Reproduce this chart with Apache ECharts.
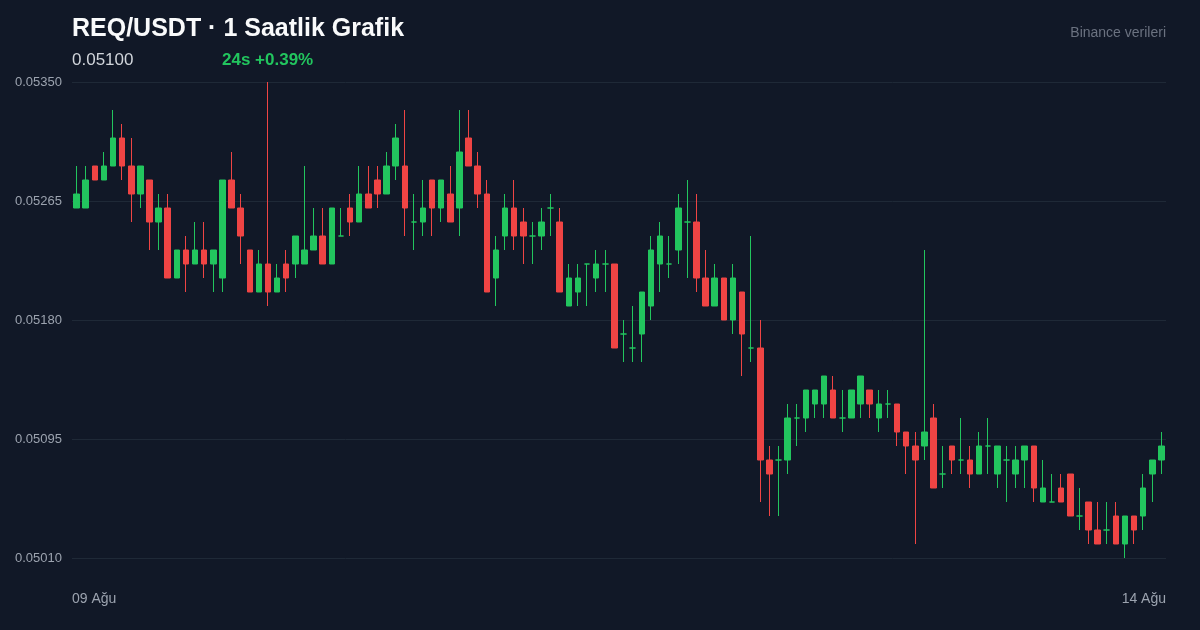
<!DOCTYPE html>
<html>
<head>
<meta charset="utf-8">
<script src="https://cdn.jsdelivr.net/npm/echarts@6/dist/echarts.min.js"></script>
<style>
html,body{margin:0;padding:0;background:#111827;}
#c{width:1200px;height:630px;}
</style>
</head>
<body>
<div id="c"></div>
<script>
const opens = [
0.0526,0.0526,0.0529,0.0528,0.0529,0.0531,0.0529,0.0527,0.0528,0.0525,
0.0526,0.0521,0.0523,0.0522,0.0523,0.0522,0.0521,0.0528,0.0526,0.0523,
0.0520,0.0522,0.0520,0.0522,0.0522,0.0522,0.0523,0.0524,0.0522,0.0524,
0.0526,0.0525,0.0527,0.0528,0.0527,0.0529,0.0529,0.0525,0.0525,0.0528,
0.0526,0.0527,0.0526,0.0531,0.0529,0.0527,0.0521,0.0524,0.0526,0.0525,
0.0524,0.0524,0.0526,0.0525,0.0519,0.0520,0.0522,0.0521,0.0522,0.0522,
0.0517,0.0516,0.0517,0.0519,0.0522,0.0522,0.0523,0.0525,0.0525,0.0521,
0.0519,0.0521,0.0518,0.0520,0.0516,0.0516,0.0508,0.0508,0.0508,0.0511,
0.0511,0.0512,0.0512,0.0513,0.0511,0.0511,0.0512,0.0513,0.0511,0.0512,
0.0512,0.0510,0.0509,0.0509,0.0511,0.0507,0.0509,0.0508,0.0508,0.0507,
0.0509,0.0507,0.0508,0.0507,0.0508,0.0509,0.0505,0.0505,0.0506,0.0507,
0.0504,0.0505,0.0503,0.0503,0.0504,0.0502,0.0504,0.0504,0.0507,0.0508
];
const closes = [
0.0527,0.0528,0.0528,0.0529,0.0531,0.0529,0.0527,0.0529,0.0525,0.0526,
0.0521,0.0523,0.0522,0.0523,0.0522,0.0523,0.0528,0.0526,0.0524,0.0520,
0.0522,0.0520,0.0521,0.0521,0.0524,0.0523,0.0524,0.0522,0.0526,0.0524,
0.0525,0.0527,0.0526,0.0527,0.0529,0.0531,0.0526,0.0525,0.0526,0.0526,
0.0528,0.0525,0.0530,0.0529,0.0527,0.0520,0.0523,0.0526,0.0524,0.0524,
0.0524,0.0525,0.0526,0.0520,0.0521,0.0521,0.0522,0.0522,0.0522,0.0516,
0.0517,0.0516,0.0520,0.0523,0.0524,0.0522,0.0526,0.0525,0.0521,0.0519,
0.0521,0.0518,0.0521,0.0517,0.0516,0.0508,0.0507,0.0508,0.0511,0.0511,
0.0513,0.0513,0.0514,0.0511,0.0511,0.0513,0.0514,0.0512,0.0512,0.0512,
0.0510,0.0509,0.0508,0.0510,0.0506,0.0507,0.0508,0.0508,0.0507,0.0509,
0.0509,0.0509,0.0508,0.0508,0.0509,0.0506,0.0506,0.0505,0.0505,0.0504,
0.0504,0.0503,0.0502,0.0503,0.0502,0.0504,0.0503,0.0506,0.0508,0.0509
];
const highs = [
0.0529,0.0529,0.0529,0.0530,0.0533,0.0532,0.0531,0.0529,0.0528,0.0527,
0.0527,0.0523,0.0524,0.0525,0.0525,0.0523,0.0528,0.0530,0.0527,0.0523,
0.0523,0.0535,0.0522,0.0523,0.0524,0.0529,0.0526,0.0526,0.0526,0.0526,
0.0527,0.0529,0.0529,0.0529,0.0530,0.0532,0.0533,0.0527,0.0528,0.0528,
0.0528,0.0529,0.0533,0.0533,0.0530,0.0528,0.0524,0.0527,0.0528,0.0526,
0.0525,0.0526,0.0527,0.0526,0.0522,0.0522,0.0522,0.0523,0.0523,0.0522,
0.0518,0.0519,0.0520,0.0524,0.0525,0.0524,0.0527,0.0528,0.0527,0.0523,
0.0522,0.0521,0.0522,0.0520,0.0524,0.0518,0.0509,0.0509,0.0512,0.0512,
0.0513,0.0513,0.0514,0.0514,0.0513,0.0513,0.0514,0.0513,0.0513,0.0513,
0.0512,0.0510,0.0510,0.0523,0.0512,0.0509,0.0509,0.0511,0.0509,0.0510,
0.0511,0.0509,0.0509,0.0509,0.0509,0.0509,0.0508,0.0507,0.0507,0.0507,
0.0506,0.0505,0.0505,0.0505,0.0505,0.0504,0.0504,0.0507,0.0508,0.0510
];
const lows = [
0.0526,0.0526,0.0528,0.0528,0.0529,0.0528,0.0525,0.0526,0.0523,0.0523,
0.0521,0.0521,0.0520,0.0522,0.0521,0.0520,0.0520,0.0526,0.0522,0.0520,
0.0520,0.0519,0.0520,0.0520,0.0521,0.0522,0.0523,0.0522,0.0522,0.0524,
0.0524,0.0525,0.0526,0.0526,0.0527,0.0528,0.0524,0.0523,0.0524,0.0524,
0.0525,0.0525,0.0524,0.0529,0.0526,0.0520,0.0519,0.0523,0.0523,0.0522,
0.0522,0.0523,0.0524,0.0520,0.0519,0.0519,0.0519,0.0520,0.0520,0.0516,
0.0515,0.0515,0.0515,0.0518,0.0520,0.0521,0.0522,0.0521,0.0520,0.0519,
0.0519,0.0518,0.0517,0.0514,0.0515,0.0505,0.0504,0.0504,0.0507,0.0509,
0.0510,0.0511,0.0511,0.0511,0.0510,0.0511,0.0511,0.0511,0.0510,0.0511,
0.0509,0.0507,0.0502,0.0508,0.0506,0.0506,0.0507,0.0507,0.0506,0.0507,
0.0507,0.0506,0.0505,0.0506,0.0506,0.0505,0.0505,0.0505,0.0505,0.0504,
0.0503,0.0502,0.0502,0.0502,0.0502,0.0501,0.0502,0.0503,0.0505,0.0507
];
const yTickLabels = ['0.05010','0.05095','0.05180','0.05265','0.05350'];
const xTickLabels = ['09 Ağu', '14 Ağu'];
const titleText = 'REQ/USDT · 1 Saatlik Grafik';
const lastPriceText = '0.05100';
const changeText = '24s +0.39%';
const sourceText = 'Binance verileri';

// hourly category keys
const categories = [];
for (let d = 9; d <= 13; d++) {
  for (let h = 0; h < 24; h++) {
    categories.push(String(d).padStart(2, '0') + ' Ağu ' + String(h).padStart(2, '0') + ':00');
  }
}

const UP = '#22c55e', DOWN = '#ef4444';
const candleData = opens.map((o, i) => {
  const item = { value: [o, closes[i], lows[i], highs[i]] };
  if (o === closes[i]) {
    item.itemStyle = { color: UP, color0: UP, borderColor: UP, borderColor0: UP };
  }
  return item;
});

const yMin = parseFloat(yTickLabels[0]);
const yMax = parseFloat(yTickLabels[yTickLabels.length - 1]);

const chart = echarts.init(document.getElementById('c'), null, { renderer: 'canvas' });
const FONT = '"Liberation Sans", Arial, Helvetica, sans-serif';

chart.setOption({
  backgroundColor: '#111827',
  animation: false,
  textStyle: { fontFamily: FONT },
  grid: { left: 72, right: 34, top: 82, bottom: 72 },
  xAxis: {
    type: 'category',
    data: categories,
    boundaryGap: true,
    axisLine: { show: false },
    axisTick: { show: false },
    axisLabel: { show: false },
    splitLine: { show: false }
  },
  yAxis: {
    type: 'value',
    min: yMin,
    max: yMax,
    interval: (yMax - yMin) / (yTickLabels.length - 1),
    axisLine: { show: false },
    axisTick: { show: false },
    axisLabel: {
      color: '#9ca3af',
      fontSize: 13,
      fontFamily: FONT,
      margin: 10,
      formatter: v => v.toFixed(5)
    },
    splitLine: { lineStyle: { color: '#1f2937', width: 1 } }
  },
  series: [{
    type: 'candlestick',
    data: candleData,
    barWidth: 6,
    itemStyle: {
      color: UP, color0: DOWN,
      borderColor: UP, borderColor0: DOWN,
      borderWidth: 1
    }
  }],
  graphic: [
    { type: 'text', left: 72, top: 17, style: { text: titleText, font: 'bold 25px ' + FONT, fill: '#f9fafb' } },
    { type: 'text', left: 72, top: 52, style: { text: lastPriceText, font: '17px ' + FONT, fill: '#d1d5db' } },
    { type: 'text', left: 222, top: 52, style: { text: changeText, font: 'bold 17px ' + FONT, fill: UP } },
    { type: 'text', right: 34, top: 26, style: { text: sourceText, font: '14px ' + FONT, fill: '#6b7280' } },
    { type: 'text', left: 72, top: 592, style: { text: xTickLabels[0], font: '14px ' + FONT, fill: '#9ca3af' } },
    { type: 'text', right: 34, top: 592, style: { text: xTickLabels[1], font: '14px ' + FONT, fill: '#9ca3af' } }
  ]
});
</script>
</body>
</html>
